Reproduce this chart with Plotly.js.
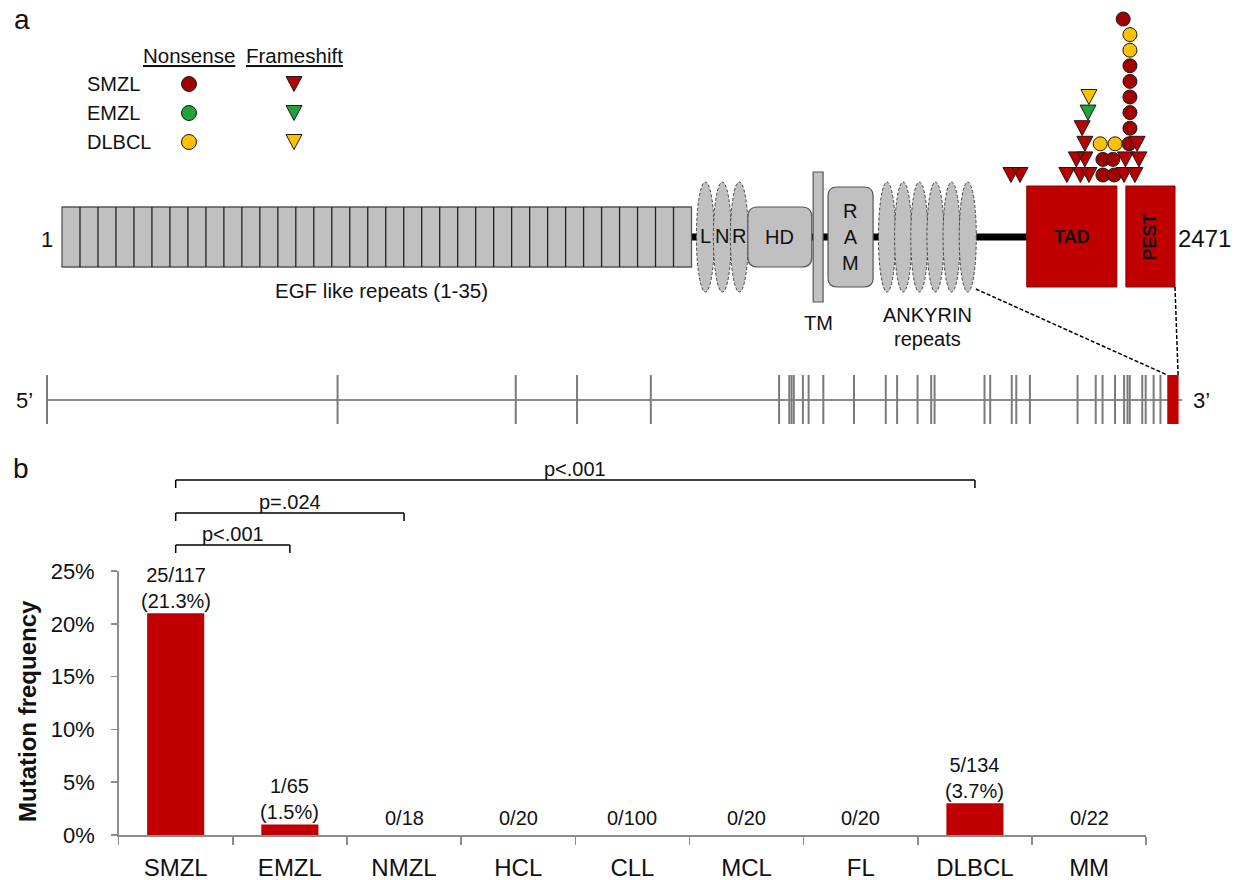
<!DOCTYPE html>
<html><head><meta charset="utf-8">
<script src="https://cdn.plot.ly/plotly-3.0.1.min.js"></script>
<style>html,body{margin:0;padding:0;background:#fff}</style>
</head><body><div id="chart" style="width:1238px;height:880px"></div>
<script>
// ================= DATA =================
// Panel b: mutation frequency per lymphoma type
const categories   = ['SMZL','EMZL','NMZL','HCL','CLL','MCL','FL','DLBCL','MM'];
const barValues    = [21, 1, 0, 0, 0, 0, 0, 3, 0];          // plotted bar heights (%)
const mutatedCases = [25, 1, 0, 0, 0, 0, 0, 5, 0];
const totalCases   = [117, 65, 18, 20, 100, 20, 20, 134, 22];
const pctLabels    = ['21.3%', '1.5%', '', '', '', '', '', '3.7%', ''];
const yTickValues  = [0, 5, 10, 15, 20, 25];

// pairwise comparisons
const compFrom = ['SMZL', 'SMZL', 'SMZL'];
const compTo   = ['EMZL', 'NMZL', 'DLBCL'];
const compP    = ['p<.001', 'p=.024', 'p<.001'];

// Panel a: NOTCH2 protein (amino-acid coordinates)
const proteinLength = 2471;
const egfRepeats = 35;
const lnrRepeats = 3;
const ankRepeats = 6;
const domainNames = ['EGF', 'LNR', 'HD', 'TM', 'RAM', 'ANK', 'TAD', 'PEST'];
const domainStart = [1,    1410, 1523, 1668, 1701, 1814, 2142, 2362];
const domainEnd   = [1398, 1523, 1665, 1690, 1801, 2029, 2342, 2471];

// mutations: aa position, stack level, type (N = nonsense, F = frameshift), disease
const mutPos     = [2107,2127,2231,2261,2280,2311,2336,2358,2382,
                    2252,2271,2311,2333,2361,2391,
                    2271,2305,2338,2369,2387,
                    2265,2371, 2278,2371, 2280,2371, 2371, 2371, 2371, 2371, 2356];
const mutLevel   = [0,0,0,0,0,0,0,0,0,
                    1,1,1,1,1,1,
                    2,2,2,2,2,
                    3,3, 4,4, 5,5, 6, 7, 8, 9, 10];
const mutType    = ['F','F','F','F','F','N','N','F','F',
                    'F','F','N','N','F','F',
                    'F','N','N','N','F',
                    'F','N', 'F','N', 'F','N', 'N', 'N', 'N', 'N', 'N'];
const mutDisease = ['SMZL','SMZL','SMZL','SMZL','SMZL','SMZL','SMZL','SMZL','SMZL',
                    'SMZL','SMZL','SMZL','SMZL','SMZL','SMZL',
                    'SMZL','DLBCL','DLBCL','SMZL','SMZL',
                    'SMZL','SMZL', 'EMZL','SMZL', 'DLBCL','SMZL', 'SMZL', 'SMZL', 'DLBCL', 'DLBCL', 'SMZL'];
const legendDiseases = ['SMZL', 'EMZL', 'DLBCL'];

// gene structure (relative units, 5' = 0 … 3' = 1000)
const geneLength = 1000;
const exonPos = [0, 256, 413, 467, 532, 645, 654, 656, 658, 666, 671, 684, 711, 739, 749,
                 767, 779, 782, 826, 831, 850, 854, 866, 908, 924, 930, 941, 949, 952, 954,
                 965, 968, 975, 981];
const lastExon = [987, 997];

// ================= STYLE / LAYOUT =================
const W = 1238, H = 880;
const FONT = 'Liberation Sans, Arial, Helvetica, sans-serif';
const TXT = '#111111';
const RED = '#C00000';
const GREY = '#C0C0C0';
const AXC = '#8C8C8C';
const diseaseColor = {SMZL: '#A00000', EMZL: '#22A33A', DLBCL: '#FFC000'};
const triColor = {SMZL: '#B80000', EMZL: '#22A33A', DLBCL: '#FFC000'};

// diagram x scale (aa)
const PX_A0 = 62, PX_A1 = 1175;
const pxPerAA = (PX_A1 - PX_A0) / (proteinLength - 1);
const aaRange = [1 - PX_A0 / pxPerAA, 1 + (W - PX_A0) / pxPerAA];
const aaToPx = a => PX_A0 + (a - 1) * pxPerAA;
const pxToAA = p => 1 + (p - PX_A0) / pxPerAA;
// gene x scale
const PX_G0 = 47, PX_G1 = 1182;
const pxPerG = (PX_G1 - PX_G0) / geneLength;
const gRange = [-PX_G0 / pxPerG, (W - PX_G0) / pxPerG];
const gToPx = g => PX_G0 + g * pxPerG;
// paper helpers
const pX = px => px / W;
const pY = py => 1 - py / H;

const dom = n => { const i = domainNames.indexOf(n); return [domainStart[i], domainEnd[i]]; };
const BACK_Y = 237;
const LEVEL0_Y = 175, LEVEL_STEP = 15.6;
const levelY = l => LEVEL0_Y - l * LEVEL_STEP;

function roundRect(x0, x1, y0, y1, rPx) {
  const rx = rPx / pxPerAA, ry = rPx;
  return `M${x0 + rx},${y0} L${x1 - rx},${y0} Q${x1},${y0} ${x1},${y0 + ry} L${x1},${y1 - ry} ` +
         `Q${x1},${y1} ${x1 - rx},${y1} L${x0 + rx},${y1} Q${x0},${y1} ${x0},${y1 - ry} ` +
         `L${x0},${y0 + ry} Q${x0},${y0} ${x0 + rx},${y0} Z`;
}

const shapes = [];
const annotations = [];
const ann = (o) => annotations.push(Object.assign({showarrow: false, xanchor: 'center', yanchor: 'middle',
                                                   font: {family: FONT, size: 20, color: TXT}}, o));

// backbone
shapes.push({type: 'line', xref: 'x', yref: 'y', x0: dom('EGF')[1], x1: dom('TAD')[0], y0: BACK_Y, y1: BACK_Y,
             line: {color: '#000', width: 7}});
// EGF block
{
  const [s, e] = dom('EGF');
  shapes.push({type: 'rect', xref: 'x', yref: 'y', x0: s, x1: e, y0: 207, y1: 267, fillcolor: GREY,
               line: {color: '#555', width: 1.3}});
  const w = (e - s) / egfRepeats;
  for (let k = 1; k < egfRepeats; k++) {
    shapes.push({type: 'line', xref: 'x', yref: 'y', x0: s + k * w, x1: s + k * w, y0: 207, y1: 267,
                 line: {color: '#222', width: 1.3}});
  }
  ann({xref: 'x', yref: 'y', x: (s + e) / 2, y: 290, xshift: 5, text: 'EGF like repeats (1-35)',
       font: {family: FONT, size: 20.5, color: TXT}});
  ann({xref: 'x', yref: 'y', x: s, y: 239, xanchor: 'right', xshift: -7, text: '1', font: {family: FONT, size: 22, color: TXT}});
}
// ellipse repeats
function repeats(name, n, letters) {
  const [s, e] = dom(name);
  const w = (e - s) / n;
  for (let k = 0; k < n; k++) {
    const c = s + (k + 0.5) * w;
    shapes.push({type: 'circle', xref: 'x', yref: 'y', x0: c - w * 0.53, x1: c + w * 0.53, y0: 182, y1: 292,
                 fillcolor: GREY, line: {color: '#444', width: 1, dash: '3px,2px'}});
    if (letters) ann({xref: 'x', yref: 'y', x: c, y: 236, text: letters[k]});
  }
}
repeats('LNR', lnrRepeats, 'LNR');
// HD
{
  const [s, e] = dom('HD');
  shapes.push({type: 'path', xref: 'x', yref: 'y', path: roundRect(s, e, 207, 267, 10), fillcolor: GREY,
               line: {color: '#555', width: 1.2}});
  ann({xref: 'x', yref: 'y', x: (s + e) / 2, y: 237, text: 'HD'});
}
// TM
{
  const [s, e] = dom('TM');
  shapes.push({type: 'rect', xref: 'x', yref: 'y', x0: s, x1: e, y0: 172, y1: 302, fillcolor: GREY,
               line: {color: '#555', width: 1.2}});
  ann({xref: 'x', yref: 'y', x: (s + e) / 2, y: 323, text: 'TM'});
}
// RAM
{
  const [s, e] = dom('RAM');
  shapes.push({type: 'path', xref: 'x', yref: 'y', path: roundRect(s, e, 187, 287, 9), fillcolor: GREY,
               line: {color: '#555', width: 1.2}});
  ann({xref: 'x', yref: 'y', x: (s + e) / 2, y: 237, text: 'R<br>A<br>M'});
}
// ANK
repeats('ANK', ankRepeats, null);
{
  const [s, e] = dom('ANK');
  ann({xref: 'x', yref: 'y', x: (s + e) / 2, y: 315, text: 'ANKYRIN'});
  ann({xref: 'x', yref: 'y', x: (s + e) / 2, y: 339, text: 'repeats'});
}
// TAD & PEST
['TAD', 'PEST'].forEach(n => {
  const [s, e] = dom(n);
  shapes.push({type: 'rect', xref: 'x', yref: 'y', x0: s, x1: e, y0: 186, y1: 287, fillcolor: RED,
               line: {color: '#8B0000', width: 1}});
  ann({xref: 'x', yref: 'y', x: (s + e) / 2, y: 237, text: '<b>' + n + '</b>', textangle: n === 'PEST' ? -90 : 0,
       font: {family: FONT, size: 18, color: TXT}});
});
ann({xref: 'x', yref: 'y', x: proteinLength, y: 238, xanchor: 'left', xshift: 1, text: String(proteinLength),
     font: {family: FONT, size: 24, color: TXT}});

// gene structure: last exon + connectors
shapes.push({type: 'rect', xref: 'x3', yref: 'y', x0: lastExon[0], x1: lastExon[1], y0: 375, y1: 424,
             fillcolor: RED, line: {width: 0}});
shapes.push({type: 'line', xref: 'paper', yref: 'y', x0: pX(aaToPx(dom('ANK')[1])), y0: 289,
             x1: pX(gToPx(lastExon[0])), y1: 375, line: {color: '#000', width: 1.5, dash: '4px,2px'}});
shapes.push({type: 'line', xref: 'paper', yref: 'y', x0: pX(aaToPx(proteinLength)), y0: 287,
             x1: pX(gToPx(lastExon[1])) - 0.5 / W, y1: 375, line: {color: '#000', width: 1.5, dash: '4px,2px'}});
ann({xref: 'paper', yref: 'y', x: pX(24), y: 400, text: '5’', font: {family: FONT, size: 22, color: TXT}});
ann({xref: 'paper', yref: 'y', x: pX(1201), y: 400, text: '3’', font: {family: FONT, size: 22, color: TXT}});

// panel letters
ann({xref: 'paper', yref: 'paper', x: pX(22), y: pY(19), text: 'a', font: {family: FONT, size: 28, color: TXT}});
ann({xref: 'paper', yref: 'paper', x: pX(21), y: pY(468), text: 'b', font: {family: FONT, size: 28, color: TXT}});

// legend
const LEG_ROWS = [84, 113, 142];
const LEG_NX = 189, LEG_FX = 294;
ann({xref: 'paper', yref: 'y', x: pX(LEG_NX), y: 55, text: 'Nonsense',
     font: {family: FONT, size: 20.5, color: TXT, lineposition: 'under'}});
ann({xref: 'paper', yref: 'y', x: pX(LEG_FX), y: 55, text: 'Frameshift',
     font: {family: FONT, size: 20.5, color: TXT, lineposition: 'under'}});
legendDiseases.forEach((d, i) => {
  ann({xref: 'paper', yref: 'y', x: pX(85), xanchor: 'left', y: LEG_ROWS[i], text: d});
});

// ================= TRACES =================
const traces = [];
// gene line and exons
traces.push({x: [0, geneLength], y: [400, 400], xaxis: 'x3', yaxis: 'y', mode: 'lines',
             line: {color: '#8C8C8C', width: 2}, hoverinfo: 'skip'});
const exX = [], exY = [];
exonPos.forEach(e => { exX.push(e, e, null); exY.push(375, 424, null); });
traces.push({x: exX, y: exY, xaxis: 'x3', yaxis: 'y', mode: 'lines',
             line: {color: '#7A7A7A', width: 2}, hoverinfo: 'skip'});

// triangle builder (x in aa, y in px rows)
const TRI_HW = 8, TRI_H = 15;
function triPath(xs, ys) {
  const X = [], Y = [];
  for (let i = 0; i < xs.length; i++) {
    const hw = TRI_HW / pxPerAA, y0 = ys[i] - TRI_H / 2, y1 = ys[i] + TRI_H / 2;
    X.push(xs[i] - hw, xs[i] + hw, xs[i], xs[i] - hw, null);
    Y.push(y0, y0, y1, y0, null);
  }
  return {X, Y};
}

// nonsense circles
legendDiseases.forEach(d => {
  const xs = [], ys = [];
  mutPos.forEach((p, i) => { if (mutType[i] === 'N' && mutDisease[i] === d) { xs.push(p); ys.push(levelY(mutLevel[i])); } });
  traces.push({x: xs, y: ys, xaxis: 'x', yaxis: 'y', mode: 'markers', hoverinfo: 'skip',
               marker: {symbol: 'circle', size: 14, color: diseaseColor[d], line: {color: '#1a1a1a', width: 1}}});
});
// frameshift triangles
legendDiseases.forEach(d => {
  const xs = [], ys = [];
  mutPos.forEach((p, i) => { if (mutType[i] === 'F' && mutDisease[i] === d) { xs.push(p); ys.push(levelY(mutLevel[i])); } });
  const t = triPath(xs, ys);
  traces.push({x: t.X, y: t.Y, xaxis: 'x', yaxis: 'y', mode: 'lines', fill: 'toself', fillcolor: triColor[d],
               line: {color: '#1a1a1a', width: 1}, hoverinfo: 'skip'});
});
// legend symbols
legendDiseases.forEach((d, i) => {
  traces.push({x: [pxToAA(LEG_NX)], y: [LEG_ROWS[i]], xaxis: 'x', yaxis: 'y', mode: 'markers', hoverinfo: 'skip',
               marker: {symbol: 'circle', size: 15, color: diseaseColor[d], line: {color: '#1a1a1a', width: 1}}});
  const t = triPath([pxToAA(LEG_FX)], [LEG_ROWS[i]]);
  traces.push({x: t.X, y: t.Y, xaxis: 'x', yaxis: 'y', mode: 'lines', fill: 'toself', fillcolor: triColor[d],
               line: {color: '#1a1a1a', width: 1}, hoverinfo: 'skip'});
});

// bars
traces.push({type: 'bar', x: categories, y: barValues, xaxis: 'x2', yaxis: 'y2', width: 0.5,
             marker: {color: RED, line: {width: 0}}, hoverinfo: 'skip'});
categories.forEach((c, i) => {
  const txt = mutatedCases[i] + '/' + totalCases[i] + (pctLabels[i] ? '<br>(' + pctLabels[i] + ')' : '');
  ann({xref: 'x2', yref: 'y2', x: i, y: barValues[i], yanchor: 'bottom', yshift: barValues[i] === 0 ? 4 : -1, text: txt});
});
// comparison brackets
const BR_Y = [545, 513, 480], BR_TICK = 8;
compFrom.forEach((f, j) => {
  const i0 = categories.indexOf(f), i1 = categories.indexOf(compTo[j]);
  const y = pY(BR_Y[j]), yt = pY(BR_Y[j] + BR_TICK);
  const ln = {color: '#000', width: 1.5};
  shapes.push({type: 'line', xref: 'x2', yref: 'paper', x0: i0, x1: i1, y0: y, y1: y, line: ln});
  shapes.push({type: 'line', xref: 'x2', yref: 'paper', x0: i0, x1: i0, y0: y, y1: yt, line: ln});
  shapes.push({type: 'line', xref: 'x2', yref: 'paper', x0: i1, x1: i1, y0: y, y1: yt, line: ln});
  ann({xref: 'x2', yref: 'paper', x: (i0 + i1) / 2, y: y, yanchor: 'bottom', yshift: -2, text: compP[j]});
});
// y title
ann({xref: 'paper', yref: 'paper', x: pX(27), y: pY(711), textangle: -90, text: '<b>Mutation frequency</b>',
     font: {family: FONT, size: 24, color: TXT}});

const hidden = {visible: false, fixedrange: true, showgrid: false, zeroline: false};
const layout = {
  width: W, height: H, margin: {l: 0, r: 0, t: 0, b: 0, pad: 0},
  paper_bgcolor: '#ffffff', plot_bgcolor: 'rgba(0,0,0,0)', showlegend: false,
  font: {family: FONT, color: TXT},
  xaxis: Object.assign({domain: [0, 1], range: aaRange, anchor: 'y'}, hidden),
  xaxis3: Object.assign({domain: [0, 1], range: gRange, overlaying: 'x', anchor: 'y'}, hidden),
  yaxis: Object.assign({domain: [0, 1], range: [H, 0], anchor: 'x'}, hidden),
  xaxis2: {domain: [pX(118.6), pX(1146.2)], anchor: 'y2', type: 'category', range: [-0.5, categories.length - 0.5],
           tickson: 'boundaries', ticks: 'outside', ticklen: 8, tickwidth: 1.5, tickcolor: AXC,
           showline: true, linecolor: AXC, linewidth: 1.5, showgrid: false, zeroline: false, fixedrange: true,
           tickfont: {family: FONT, size: 24, color: TXT}, ticklabelstandoff: 11},
  yaxis2: {domain: [pY(835), pY(571)], anchor: 'x2', range: [0, 25], tickvals: yTickValues,
           ticktext: yTickValues.map(v => v + '%'), ticks: 'outside', ticklen: 6, tickwidth: 1.5, tickcolor: AXC,
           showline: true, linecolor: AXC, linewidth: 1.5, showgrid: false, zeroline: false, fixedrange: true,
           tickfont: {family: FONT, size: 22, color: TXT}, ticklabelstandoff: 12},
  shapes: shapes,
  annotations: annotations
};
Plotly.newPlot('chart', traces, layout, {displayModeBar: false, staticPlot: true});
</script></body></html>
